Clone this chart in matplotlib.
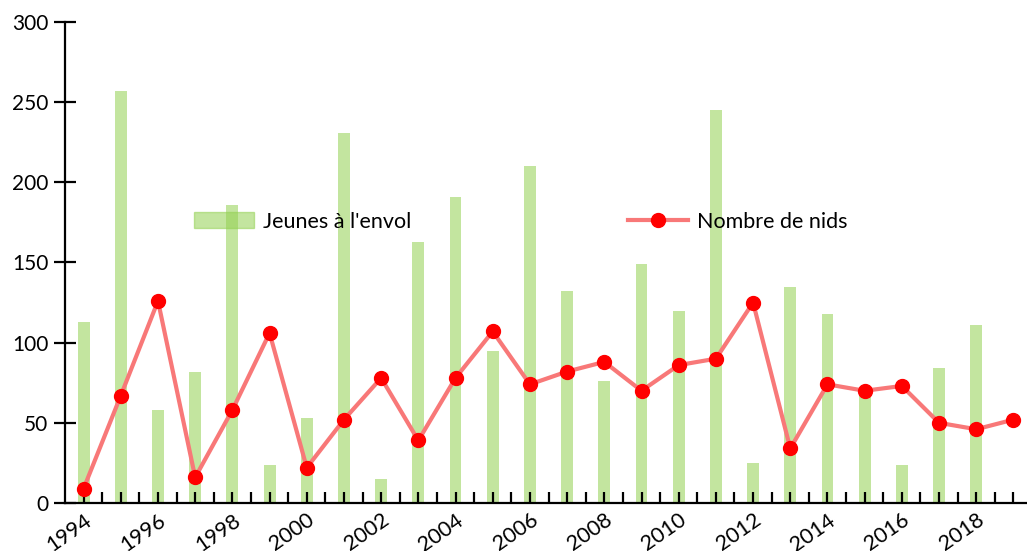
import matplotlib
matplotlib.use("Agg")
import matplotlib.pyplot as plt
import numpy as np
from matplotlib.patches import Patch
from matplotlib.lines import Line2D

plt.rcParams['font.family'] = ['Lato', 'DejaVu Sans']

years = list(range(1994, 2020))
jeunes = [113, 257, 58, 82, 186, 24, 53, 231, 15, 163, 191, 95, 210,
          132, 76, 149, 120, 245, 25, 135, 118, 68, 24, 84, 111, 0]
nids = [9, 67, 126, 16, 58, 106, 22, 52, 78, 39, 78, 107, 74,
        82, 88, 70, 86, 90, 125, 34, 74, 70, 73, 50, 46, 52]
year_labels = [str(y) for y in years[::2]]

bar_color = '#92d050'
line_color = '#f87878'
marker_color = '#ff0000'

fig = plt.figure(figsize=(10.27, 5.51), dpi=100)
ax = fig.add_axes([0.0633, 0.0871, 0.9416, 0.8730])

ax.bar(years, jeunes, width=0.32, color=bar_color, alpha=0.55, zorder=1)
ax.plot(years, nids, color=line_color, linewidth=3, zorder=3)
ax.plot(years, nids, linestyle='none', marker='o', markersize=10,
        color=marker_color, zorder=4)

ax.set_xlim(1993.5, 2019.5)
ax.set_ylim(0, 300)

for side in ['top', 'right']:
    ax.spines[side].set_visible(False)
for side in ['left', 'bottom']:
    ax.spines[side].set_linewidth(1.6)

ax.set_yticks([0, 50, 100, 150, 200, 250, 300])
ax.tick_params(axis='y', direction='inout', length=16, width=1.6,
               labelsize=15, pad=4)

ax.set_xticks(years[::2])
ax.set_xticklabels(year_labels, rotation=35, ha='right', rotation_mode='anchor')
ax.set_xticks([y for y in years[1::2]] + [y + 0.5 for y in years[:-1]], minor=True)
ax.tick_params(axis='x', which='both', direction='in', length=8, width=1.6,
               labelsize=15.5, pad=5)

leg1 = ax.legend(handles=[Patch(color=bar_color, alpha=0.55)],
                 labels=["Jeunes à l'envol"], frameon=False, fontsize=15.5,
                 loc='center left', bbox_to_anchor=(0.113, 0.585),
                 handlelength=2.8, handleheight=0.75, handletextpad=0.4)
ax.add_artist(leg1)
ax.legend(handles=[Line2D([], [], color=line_color, linewidth=3, marker='o',
                          markersize=10, markerfacecolor=marker_color,
                          markeredgecolor=marker_color)],
          labels=["Nombre de nids"], frameon=False, fontsize=15.5,
          loc='center left', bbox_to_anchor=(0.562, 0.585),
          handlelength=2.8, handletextpad=0.4)

fig.savefig('out.png', dpi=100)
